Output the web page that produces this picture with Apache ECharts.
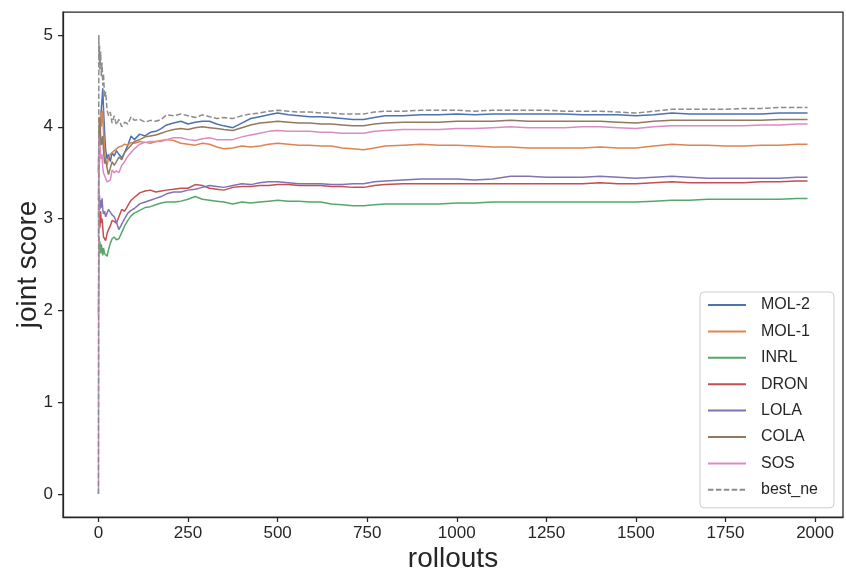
<!DOCTYPE html>
<html>
<head>
<meta charset="utf-8">
<script src="https://cdn.jsdelivr.net/npm/echarts@6/dist/echarts.min.js"></script>
<style>
html,body{margin:0;padding:0;background:#fff;}
#chart{width:846px;height:574px;}
</style>
</head>
<body>
<div id="chart"></div>
<script>
const rollouts = [0,1,2,3,4,6,8,10,12,14,
 17,20,24,28,33,38,44,50,57,65,
 73,82,91,100,115,130,145,160,175,190,
 210,230,250,270,290,310,330,350,375,400,
 425,450,475,500,530,560,590,620,650,680,
 710,740,770,800,850,900,950,1000,1050,1100,
 1150,1200,1250,1300,1350,1400,1450,1500,1550,1600,
 1650,1700,1750,1800,1850,1900,1950,1979];

const mol2 = [3.20,3.60,3.90,4.00,3.80,4.10,4.20,4.30,4.42,4.20,
 3.95,3.75,3.65,3.70,3.62,3.72,3.68,3.74,3.70,3.66,
 3.72,3.80,3.90,3.86,3.92,3.90,3.94,3.95,3.98,4.02,
 4.04,4.06,4.03,4.05,4.06,4.06,4.03,4.01,3.99,4.04,
 4.09,4.11,4.13,4.15,4.13,4.12,4.11,4.11,4.10,4.09,
 4.08,4.08,4.10,4.12,4.12,4.13,4.13,4.14,4.13,4.14,
 4.14,4.14,4.14,4.14,4.13,4.13,4.13,4.12,4.13,4.15,
 4.14,4.14,4.14,4.14,4.14,4.15,4.15,4.15];

const mol1 = [3.50,3.90,4.10,3.95,4.05,4.15,4.00,4.10,4.18,3.95,
 3.75,3.62,3.58,3.66,3.70,3.68,3.74,3.76,3.78,3.79,
 3.81,3.80,3.83,3.82,3.84,3.83,3.82,3.84,3.85,3.86,
 3.85,3.82,3.81,3.80,3.82,3.81,3.78,3.76,3.77,3.79,
 3.78,3.79,3.81,3.82,3.81,3.80,3.80,3.79,3.79,3.77,
 3.76,3.75,3.77,3.79,3.80,3.81,3.80,3.80,3.79,3.78,
 3.78,3.77,3.77,3.77,3.77,3.78,3.77,3.77,3.79,3.81,
 3.80,3.80,3.79,3.79,3.80,3.80,3.81,3.81];

const inrl = [1.95,2.50,2.80,2.65,2.75,2.62,2.72,2.66,2.60,2.68,
 2.62,2.60,2.59,2.66,2.73,2.78,2.80,2.77,2.78,2.85,
 2.92,2.98,3.03,3.06,3.09,3.12,3.13,3.15,3.17,3.18,
 3.18,3.19,3.21,3.24,3.21,3.20,3.19,3.18,3.16,3.18,
 3.17,3.18,3.19,3.20,3.19,3.19,3.18,3.18,3.16,3.15,
 3.14,3.14,3.15,3.16,3.16,3.16,3.16,3.17,3.17,3.18,
 3.18,3.18,3.18,3.18,3.18,3.18,3.18,3.18,3.19,3.20,
 3.20,3.21,3.21,3.21,3.21,3.21,3.22,3.22];

const dron = [2.80,3.10,2.95,3.05,2.90,3.08,2.95,3.00,2.90,2.80,
 2.78,2.76,2.84,2.88,2.92,2.98,2.97,2.95,3.02,3.10,
 3.08,3.14,3.20,3.23,3.28,3.30,3.31,3.29,3.30,3.31,
 3.32,3.33,3.33,3.37,3.36,3.33,3.32,3.31,3.34,3.35,
 3.35,3.36,3.36,3.37,3.37,3.36,3.36,3.36,3.35,3.35,
 3.34,3.34,3.36,3.37,3.38,3.38,3.38,3.38,3.38,3.38,
 3.38,3.38,3.38,3.38,3.38,3.39,3.38,3.38,3.39,3.40,
 3.39,3.39,3.39,3.39,3.40,3.40,3.41,3.41];

const lola = [3.00,3.30,3.15,3.25,3.10,3.20,3.12,3.22,3.10,3.05,
 3.08,3.02,3.06,3.10,3.08,3.04,3.02,2.96,2.88,2.94,
 3.00,3.06,3.09,3.11,3.16,3.18,3.20,3.22,3.24,3.27,
 3.29,3.29,3.31,3.32,3.34,3.36,3.35,3.34,3.36,3.38,
 3.37,3.39,3.40,3.40,3.39,3.38,3.38,3.38,3.37,3.37,
 3.38,3.38,3.40,3.41,3.42,3.43,3.43,3.43,3.42,3.43,
 3.46,3.46,3.45,3.45,3.45,3.46,3.45,3.44,3.45,3.46,
 3.45,3.44,3.44,3.44,3.44,3.44,3.45,3.45];

const cola = [3.50,3.80,4.00,3.90,4.10,3.90,3.80,3.85,3.90,3.75,
 3.60,3.65,3.55,3.48,3.55,3.62,3.58,3.62,3.67,3.64,
 3.72,3.76,3.80,3.84,3.86,3.89,3.90,3.91,3.93,3.95,
 3.97,3.98,3.97,3.99,4.00,3.99,3.98,3.97,3.96,3.99,
 4.02,4.04,4.05,4.06,4.05,4.04,4.04,4.03,4.03,4.02,
 4.01,4.01,4.03,4.04,4.05,4.05,4.05,4.06,4.06,4.06,
 4.07,4.06,4.06,4.06,4.06,4.06,4.05,4.04,4.06,4.07,
 4.07,4.07,4.07,4.07,4.07,4.08,4.08,4.08];

const sos = [0,3.90,3.70,3.60,3.80,3.70,3.65,3.70,3.55,3.50,
 3.47,3.45,3.40,3.38,3.42,3.53,3.50,3.52,3.50,3.58,
 3.62,3.68,3.72,3.76,3.81,3.83,3.84,3.84,3.84,3.86,
 3.88,3.88,3.86,3.85,3.87,3.88,3.86,3.86,3.86,3.89,
 3.91,3.93,3.95,3.96,3.95,3.95,3.95,3.94,3.94,3.93,
 3.93,3.93,3.95,3.96,3.97,3.97,3.97,3.98,3.98,3.99,
 4.00,3.99,3.99,3.99,4.00,4.00,3.99,3.98,4.00,4.01,
 4.01,4.01,4.01,4.01,4.02,4.02,4.03,4.03];

const bestNe = [0,5.00,4.72,4.88,4.62,4.82,4.55,4.70,4.45,4.58,
 4.32,4.38,4.18,4.12,4.16,4.04,4.12,4.02,4.08,4.00,
 4.05,4.03,4.11,4.07,4.08,4.05,4.07,4.06,4.08,4.13,
 4.12,4.14,4.12,4.10,4.13,4.11,4.09,4.10,4.09,4.12,
 4.14,4.15,4.17,4.18,4.17,4.16,4.16,4.15,4.15,4.14,
 4.14,4.14,4.16,4.17,4.17,4.18,4.18,4.18,4.17,4.18,
 4.18,4.18,4.18,4.17,4.17,4.17,4.16,4.15,4.17,4.19,
 4.19,4.19,4.19,4.20,4.20,4.21,4.21,4.21];

const seriesNames = ['MOL-2','MOL-1','INRL','DRON','LOLA','COLA','SOS','best_ne'];
const seriesValues = [mol2, mol1, inrl, dron, lola, cola, sos, bestNe];
const seriesColors = ['#4C72B0','#DD8452','#55A868','#C44E52','#8172B3','#937860','#DA8BC3','#8C8C8C'];
const xTicks = [0,250,500,750,1000,1250,1500,1750,2000];
const yTicks = [0,1,2,3,4,5];

const FONT = "'Liberation Sans', Arial, sans-serif";
const TXT = '#262626';

const chart = echarts.init(document.getElementById('chart'), null, {renderer: 'canvas'});

const series = seriesNames.map((name, k) => ({
  name: name,
  type: 'line',
  data: rollouts.map((r, i) => [r, seriesValues[k][i]]),
  showSymbol: false,
  symbol: 'none',
  smooth: false,
  lineStyle: {
    color: seriesColors[k],
    width: 1.5,
    type: name === 'best_ne' ? [5.5, 2.4] : 'solid'
  },
  itemStyle: {color: seriesColors[k]},
  emphasis: {disabled: true},
  z: 2 + k
}));

chart.setOption({
  animation: false,
  backgroundColor: '#ffffff',
  grid: {
    left: 63, right: 3, top: 12, bottom: 57,
    containLabel: false,
    outerBoundsMode: 'none',
    show: true, borderColor: TXT, borderWidth: 1.25, backgroundColor: 'transparent'
  },
  xAxis: {
    type: 'value',
    min: -99, max: 2078,
    name: 'rollouts',
    nameLocation: 'middle',
    nameGap: 28,
    nameMoveOverlap: false,
    nameTextStyle: {fontFamily: FONT, fontSize: 28, color: TXT},
    axisLine: {show: true, onZero: false, lineStyle: {color: TXT, width: 1.25}},
    axisTick: {show: true, length: 5, lineStyle: {color: TXT, width: 1.25}, customValues: xTicks},
    axisLabel: {fontFamily: FONT, fontSize: 17, color: TXT, margin: 8, customValues: xTicks,
      formatter: v => String(v)},
    splitLine: {show: false}
  },
  yAxis: {
    type: 'value',
    min: -0.25, max: 5.25,
    name: 'joint score',
    nameLocation: 'middle',
    nameGap: 21,
    nameMoveOverlap: false,
    nameRotate: 90,
    nameTextStyle: {fontFamily: FONT, fontSize: 28, color: TXT},
    axisLine: {show: true, onZero: false, lineStyle: {color: TXT, width: 1.25}},
    axisTick: {show: true, length: 5, lineStyle: {color: TXT, width: 1.25}, customValues: yTicks},
    axisLabel: {fontFamily: FONT, fontSize: 17, color: TXT, margin: 10, customValues: yTicks,
      formatter: v => String(v)},
    splitLine: {show: false}
  },
  legend: {
    orient: 'vertical',
    left: 700,
    top: 292,
    padding: [3, 16, 8, 7],
    itemWidth: 38,
    itemHeight: 20,
    itemGap: 6.4,
    backgroundColor: '#ffffff',
    borderColor: '#cccccc',
    borderWidth: 1,
    borderRadius: 4,
    itemStyle: {opacity: 0},
    textStyle: {fontFamily: FONT, fontSize: 16, color: TXT, lineHeight: 20, padding: [0, 0, 0, 10]},
    data: seriesNames
  },
  series: series
});
</script>
</body>
</html>
